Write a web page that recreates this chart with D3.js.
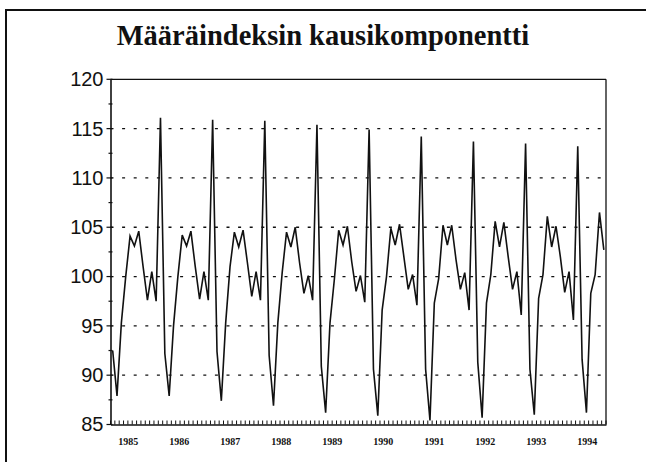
<!DOCTYPE html>
<html><head><meta charset="utf-8">
<script src="https://cdn.jsdelivr.net/npm/d3@7"></script>
<style>
html,body{margin:0;padding:0;background:#fff;}
svg{display:block;}
</style></head>
<body>
<script>
const title = "Määräindeksin kausikomponentti";
const yearLabels = ["1985","1986","1987","1988","1989","1990","1991","1992","1993","1994"];
const yTicks = [85, 90, 95, 100, 105, 110, 115, 120];
const gridValues = [90, 95, 100, 105, 110, 115];
const v1985 = [92.5, 87.9, 95.3, 100.0, 104.1, 103.1, 104.6, 101.0, 97.6, 100.5, 97.5, 116.1];
const v1986 = [92.2, 87.9, 95.0, 100.0, 104.2, 103.1, 104.6, 101.0, 97.7, 100.5, 97.6, 115.9];
const v1987 = [92.4, 87.4, 95.3, 101.0, 104.5, 103.0, 104.7, 101.4, 98.0, 100.5, 97.6, 115.8];
const v1988 = [92.0, 86.9, 95.3, 100.4, 104.5, 103.0, 105.0, 101.4, 98.3, 100.1, 97.6, 115.4];
const v1989 = [90.9, 86.2, 95.3, 99.7, 104.7, 103.2, 105.1, 101.5, 98.5, 100.1, 97.4, 114.9];
const v1990 = [90.6, 85.9, 96.6, 100.0, 104.9, 103.2, 105.3, 102.0, 98.7, 100.2, 97.1, 114.2];
const v1991 = [90.6, 85.4, 97.3, 99.8, 105.2, 103.2, 105.2, 101.7, 98.7, 100.4, 96.6, 113.7];
const v1992 = [91.3, 85.7, 97.3, 100.2, 105.6, 103.0, 105.5, 102.0, 98.7, 100.5, 96.1, 113.5];
const v1993 = [90.6, 86.0, 97.8, 100.2, 106.1, 103.0, 105.1, 102.0, 98.4, 100.5, 95.6, 113.2];
const v1994 = [91.6, 86.2, 98.3, 100.2, 106.5, 102.7];

const values = [].concat(v1985, v1986, v1987, v1988, v1989, v1990, v1991, v1992, v1993, v1994);
const months = values.map((d, i) => i);

(function () {
const W = 650, H = 462;
const svg = d3.select("body").append("svg").attr("width", W).attr("height", H);

// outer frame (top + left edges)
svg.append("line").attr("x1", 6).attr("x2", 646).attr("y1", 10).attr("y2", 10)
  .attr("stroke", "#111").attr("stroke-width", 2);
svg.append("line").attr("x1", 6).attr("x2", 6).attr("y1", 9).attr("y2", 462)
  .attr("stroke", "#111").attr("stroke-width", 2);

svg.append("text").attr("x", 323).attr("y", 45).attr("text-anchor", "middle")
  .attr("font-family", "'Liberation Serif','Times New Roman',serif")
  .attr("font-weight", "bold").attr("font-size", 28.5).attr("fill", "#111").text(title);

const pLeft = 110.5, pRight = 606, pTop = 79.3, pBottom = 424.5;
const x = d3.scaleBand().domain(months).range([pLeft, pRight]).padding(0);
const y = d3.scaleLinear().domain([85, 120]).range([pBottom, pTop]);

// grid
svg.append("g").selectAll("line").data(gridValues).join("line")
  .attr("x1", pLeft).attr("x2", pRight)
  .attr("y1", d => y(d)).attr("y2", d => y(d))
  .attr("stroke", "#111").attr("stroke-width", 1.3).attr("stroke-dasharray", "3,8.6");

// plot box top and right
svg.append("line").attr("x1", pLeft).attr("x2", pRight).attr("y1", y(120)).attr("y2", y(120))
  .attr("stroke", "#111").attr("stroke-width", 1.3);
svg.append("line").attr("x1", pRight).attr("x2", pRight).attr("y1", y(120)).attr("y2", y(85))
  .attr("stroke", "#111").attr("stroke-width", 1.3);

// y axis
const yAxis = d3.axisLeft(y).tickValues(yTicks).tickSize(0).tickPadding(7).tickFormat(d3.format("d"));
const gy = svg.append("g").attr("transform", `translate(${pLeft},0)`).call(yAxis);
gy.select(".domain").attr("stroke", "#111").attr("stroke-width", 1.6);
gy.selectAll("text").attr("font-family", "'Liberation Sans',Arial,sans-serif")
  .attr("font-size", 20).attr("fill", "#111");
const minorY = d3.range(85, 120.1, 2.5);
svg.append("g").selectAll("line").data(minorY).join("line")
  .attr("x1", d => (d % 5 === 0 ? pLeft - 4 : pLeft - 2)).attr("x2", pLeft + 2)
  .attr("y1", d => y(d)).attr("y2", d => y(d))
  .attr("stroke", "#111").attr("stroke-width", 1.2);

// x axis with monthly ticks (upward)
const xAxis = d3.axisBottom(x).tickSize(0).tickFormat("");
const gx = svg.append("g").attr("transform", `translate(0,${pBottom})`).call(xAxis);
gx.select(".domain").attr("stroke", "#111").attr("stroke-width", 1.6);
const tickPos = months.map(m => x(m)).concat([x(months[months.length - 1]) + x.bandwidth()]);
svg.append("g").selectAll("line").data(tickPos).join("line")
  .attr("x1", d => d).attr("x2", d => d).attr("y1", pBottom).attr("y2", pBottom - 4)
  .attr("stroke", "#111").attr("stroke-width", 1);

// year labels
const xl = d3.scalePoint().domain(yearLabels).range([128.3, 587.3]);
svg.append("g").selectAll("text").data(yearLabels).join("text")
  .attr("x", d => xl(d)).attr("y", 445).attr("text-anchor", "middle")
  .attr("font-family", "'Liberation Serif','Times New Roman',serif")
  .attr("font-weight", "bold").attr("font-size", 10).attr("fill", "#111").text(d => d);

// line
const line = d3.line().x((d, i) => x(i) + x.bandwidth() / 2).y(d => y(d));
svg.append("path").datum(values).attr("d", line)
  .attr("fill", "none").attr("stroke", "#111").attr("stroke-width", 1.6).attr("stroke-linejoin", "miter");
})();
</script>
</body></html>
